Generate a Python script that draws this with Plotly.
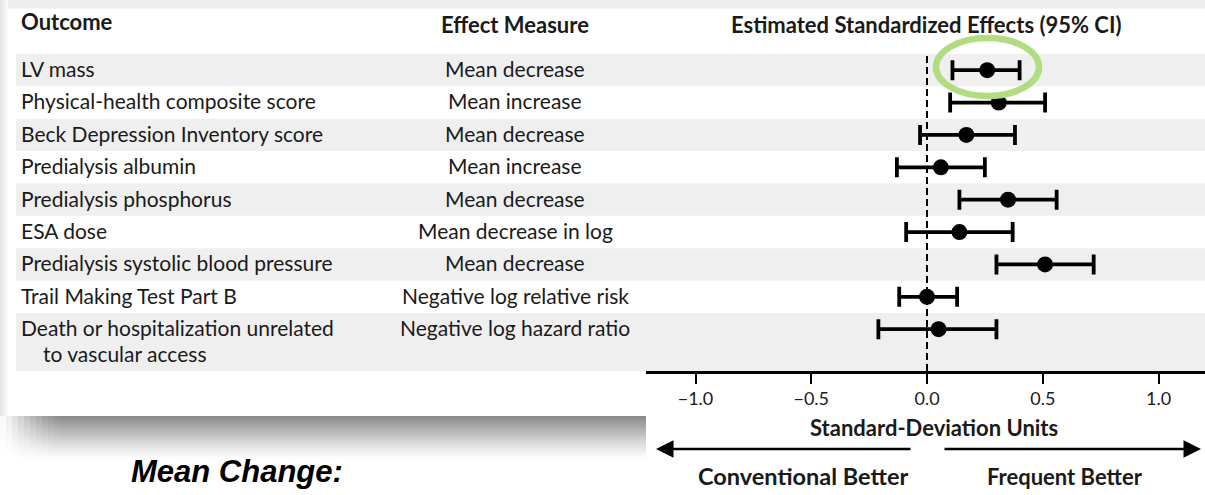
import plotly.graph_objects as go

# ---------------- data ----------------
outcomes = [
    "LV mass",
    "Physical-health composite score",
    "Beck Depression Inventory score",
    "Predialysis albumin",
    "Predialysis phosphorus",
    "ESA dose",
    "Predialysis systolic blood pressure",
    "Trail Making Test Part B",
    "Death or hospitalization unrelated",
]
outcome_cont = "to vascular access"
measures = [
    "Mean decrease",
    "Mean increase",
    "Mean decrease",
    "Mean increase",
    "Mean decrease",
    "Mean decrease in log",
    "Mean decrease",
    "Negative log relative risk",
    "Negative log hazard ratio",
]
estimate = [0.26, 0.31, 0.17, 0.06, 0.35, 0.14, 0.51, 0.00, 0.05]
ci_low = [0.11, 0.10, -0.03, -0.13, 0.14, -0.09, 0.30, -0.12, -0.21]
ci_high = [0.40, 0.51, 0.38, 0.25, 0.56, 0.37, 0.72, 0.13, 0.30]
tick_vals = [-1.0, -0.5, 0.0, 0.5, 1.0]
tick_text = ["\u22121.0", "\u22120.5", "0.0", "0.5", "1.0"]

# ---------------- geometry helpers ----------------
W, H = 1205, 495
FONT = "Lato"


def px(x):
    return x / W


def py(y):
    return (H - y) / H


rows = list(range(len(outcomes)))
row_h = 32.375
y_top_px, y_axis_px = 54, 371
y_range_bottom = -0.5 + (y_axis_px - y_top_px) / row_h

fig = go.Figure()

fig.add_trace(go.Scatter(
    x=estimate, y=rows, mode="markers",
    marker=dict(size=16, color="black"),
    error_x=dict(type="data", symmetric=False,
                 array=[h - e for h, e in zip(ci_high, estimate)],
                 arrayminus=[e - l for e, l in zip(estimate, ci_low)],
                 color="black", thickness=3.8, width=10),
    showlegend=False, hoverinfo="skip",
))

shapes = []
# top & left light-gray page strips
shapes.append(dict(type="rect", xref="paper", yref="paper", x0=0, x1=1,
                   y0=py(8.5), y1=1, fillcolor="#eeeeee", line_width=0, layer="below"))
left_cols = ["#e4e4e4", "#e8e8e8", "#ececec", "#efefef", "#f2f2f2", "#f5f5f5", "#f8f8f8", "#fbfbfb"]
for i, c in enumerate(left_cols):
    shapes.append(dict(type="rect", xref="paper", yref="paper", x0=px(i), x1=px(i + 1),
                       y0=py(416), y1=1, fillcolor=c, line_width=0, layer="below"))

# shadow under the left panel
shadow_cols = [140, 146, 152, 158, 164, 170, 176, 182, 188, 194, 200, 206, 212,
               218, 223, 228, 233, 238, 242, 246, 250, 253, 255]
for i, v in enumerate(shadow_cols):
    c = f"rgb({v},{v},{v})"
    shapes.append(dict(type="rect", xref="paper", yref="paper", x0=0, x1=px(646),
                       y0=py(416 + 2 * (i + 1)), y1=py(416 + 2 * i),
                       fillcolor=c, line_width=0, layer="below"))
fade = [0.95, 0.85, 0.72, 0.6, 0.48, 0.37, 0.27, 0.18, 0.1, 0.04]
for i, a in enumerate(fade):
    shapes.append(dict(type="rect", xref="paper", yref="paper", x0=px(6 * i), x1=px(6 * i + 6),
                       y0=py(462), y1=py(416),
                       fillcolor=f"rgba(255,255,255,{a})", line_width=0, layer="below"))

# alternating row bands
for i in rows:
    if i % 2 == 0:
        y1 = i + 0.5 if i < len(rows) - 1 else y_range_bottom + 0.05
        shapes.append(dict(type="rect", xref="paper", yref="y", x0=px(16), x1=1,
                           y0=i - 0.5, y1=y1, fillcolor="#efefef", line_width=0, layer="below"))

# dashed zero line
shapes.append(dict(type="line", xref="x", yref="paper", x0=0, x1=0,
                   y0=py(y_axis_px), y1=py(53),
                   line=dict(color="black", width=2, dash="7px,4px")))

# green highlight ellipse
shapes.append(dict(type="circle", xref="paper", yref="paper",
                   x0=px(936), x1=px(1039), y0=py(96), y1=py(38),
                   line=dict(color="#b2dc82", width=6.5)))

annotations = []


def txt(x, y, s, size=21, bold=False, anchor="left", yref="paper", family=FONT, italic=False, color="#1a1a1a"):
    t = f"<b>{s}</b>" if bold else s
    if italic:
        t = f"<i>{t}</i>"
    annotations.append(dict(x=x, y=y, xref="paper", yref=yref, text=t, showarrow=False,
                            xanchor=anchor, yanchor="middle",
                            font=dict(size=size, family=family, color=color)))


# headers
txt(px(19), py(22), "Outcome", size=22, bold=True)
txt(px(515), py(25), "Effect Measure", size=22, bold=True, anchor="center")
txt(px(926), py(25), "Estimated Standardized Effects (95% CI)", size=22, bold=True, anchor="center")

for i, (o, m) in enumerate(zip(outcomes, measures)):
    txt(px(19), i - 0.05, o, yref="y")
    txt(px(515), i - 0.05, m, anchor="center", yref="y")
txt(px(41), len(rows) - 1 + 0.74, outcome_cont, yref="y")

txt(px(934), py(427), "Standard-Deviation Units", size=22, bold=True, anchor="center")
txt(px(803), py(476), "Conventional Better", size=23.5, bold=True, anchor="center")
txt(px(1065), py(476), "Frequent Better", size=22, bold=True, anchor="center")
txt(px(237), py(471), "Mean Change:", size=31, bold=True, italic=True, anchor="center",
    family="Liberation Sans", color="black")

# arrows
annotations.append(dict(x=px(656), y=py(449), xref="paper", yref="paper", text="",
                        showarrow=True, ax=912 - 656, ay=0, arrowhead=2, arrowsize=1.4,
                        arrowwidth=2.5, arrowcolor="black"))
annotations.append(dict(x=px(1201), y=py(449), xref="paper", yref="paper", text="",
                        showarrow=True, ax=943 - 1201, ay=0, arrowhead=2, arrowsize=1.4,
                        arrowwidth=2.5, arrowcolor="black"))

fig.update_layout(
    width=W, height=H,
    margin=dict(l=0, r=0, t=0, b=0),
    paper_bgcolor="white", plot_bgcolor="rgba(0,0,0,0)",
    shapes=shapes, annotations=annotations,
    xaxis=dict(domain=[px(646), 1], range=[(646 - 927) / 231.5, (1205 - 927) / 231.5],
               showgrid=False, zeroline=False, showline=True, linecolor="black", linewidth=2.5,
               ticks="outside", ticklen=10, tickwidth=2, tickcolor="black",
               tickvals=tick_vals, ticktext=tick_text,
               tickfont=dict(size=18, family=FONT, color="#1a1a1a")),
    yaxis=dict(domain=[py(y_axis_px), py(y_top_px)], range=[y_range_bottom, -0.5],
               visible=False),
)

fig.write_html("out.html", config={"displayModeBar": False},
               post_script="document.body.style.margin='0px';")
